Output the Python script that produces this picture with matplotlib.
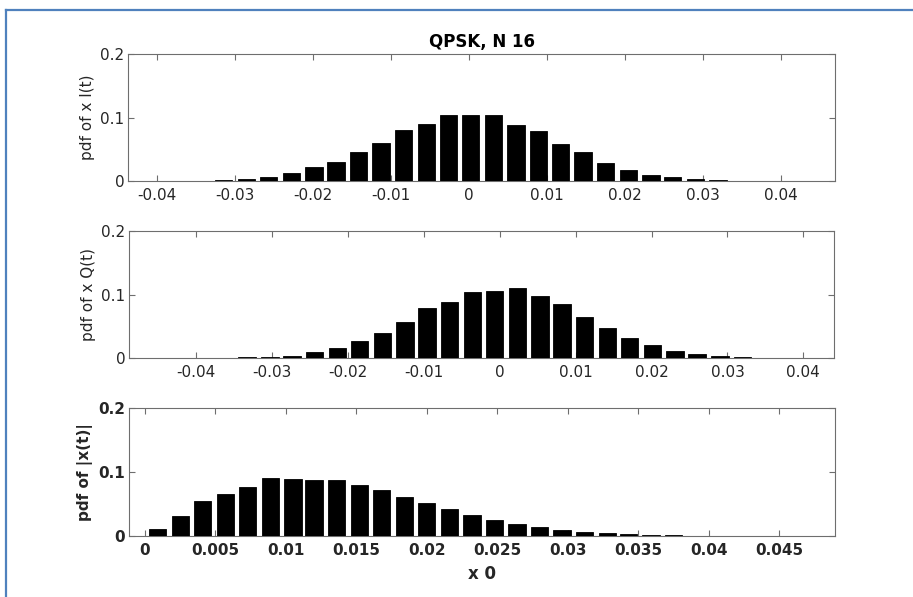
import numpy as np
import matplotlib
matplotlib.use("Agg")
import matplotlib.pyplot as plt
from matplotlib.lines import Line2D

plt.rcParams["font.family"] = ["DejaVu Sans"]

# bin centers / pdf values
i_centers = [-0.0401, -0.0372, -0.0343, -0.0315, -0.0286, -0.0257, -0.0228, -0.0199,
             -0.0171, -0.0142, -0.0113, -0.0084, -0.0055, -0.0027, 0.0002, 0.0031,
             0.0060, 0.0089, 0.0117, 0.0146, 0.0175, 0.0204, 0.0233, 0.0261,
             0.0290, 0.0319, 0.0348, 0.0377, 0.0405, 0.0434]
i_pdf = [0.0001, 0.0002, 0.0005, 0.0014, 0.003, 0.006, 0.012, 0.0216,
         0.030, 0.046, 0.060, 0.0805, 0.090, 0.104, 0.104, 0.1047,
         0.088, 0.078, 0.059, 0.046, 0.028, 0.0174, 0.0095, 0.0058,
         0.0026, 0.001, 0.0004, 0.0002, 0.0001, 0.0001]

q_centers = [-0.0452, -0.0422, -0.0392, -0.0363, -0.0333, -0.0303, -0.0274, -0.0244,
             -0.0214, -0.0185, -0.0155, -0.0125, -0.0096, -0.0066, -0.0036, -0.0007,
             0.0023, 0.0053, 0.0082, 0.0112, 0.0142, 0.0171, 0.0201, 0.0231,
             0.0260, 0.0290, 0.0320, 0.0349, 0.0379, 0.0409]
q_pdf = [0.0001, 0.0001, 0.0003, 0.0005, 0.001, 0.002, 0.0037, 0.009,
         0.016, 0.027, 0.040, 0.057, 0.078, 0.089, 0.104, 0.106,
         0.111, 0.098, 0.085, 0.065, 0.048, 0.032, 0.021, 0.0116,
         0.0058, 0.003, 0.0015, 0.0005, 0.0002, 0.0001]

a_centers = [0.0009, 0.0025, 0.0041, 0.0057, 0.0073, 0.0089, 0.0105, 0.0120,
             0.0136, 0.0152, 0.0168, 0.0184, 0.0200, 0.0216, 0.0232, 0.0248,
             0.0264, 0.0280, 0.0296, 0.0312, 0.0328, 0.0343, 0.0359, 0.0375,
             0.0391, 0.0407, 0.0423, 0.0439, 0.0455, 0.0471]
a_pdf = [0.0116, 0.032, 0.054, 0.066, 0.077, 0.090, 0.0895, 0.088,
         0.0874, 0.079, 0.0716, 0.0605, 0.0516, 0.0416, 0.0324, 0.025,
         0.019, 0.0135, 0.0094, 0.0068, 0.0042, 0.0026, 0.0013, 0.0008,
         0.0004, 0.0002, 0.0001, 0.0001, 0.0001, 0.00005]

iq_ticks = [-0.04, -0.03, -0.02, -0.01, 0, 0.01, 0.02, 0.03, 0.04]
iq_labels = ["-0.04", "-0.03", "-0.02", "-0.01", "0", "0.01", "0.02", "0.03", "0.04"]
a_ticks = [0, 0.005, 0.01, 0.015, 0.02, 0.025, 0.03, 0.035, 0.04, 0.045]
a_labels = ["0", "0.005", "0.01", "0.015", "0.02", "0.025", "0.03", "0.035", "0.04", "0.045"]
y_ticks = [0, 0.1, 0.2]
y_labels = ["0", "0.1", "0.2"]

TXT = "#262626"
SPINE = "#6e6e6e"


def hist_panel(ax, centers, pdf, xlim, xticks, xlabels, ylabel, bold=False):
    c = np.asarray(centers)
    w = 0.77 * np.diff(c).mean()
    # thin black edge, drawn over the spine, so near-empty tail bins still show
    ax.bar(c, pdf, width=w, color="black", edgecolor="black", linewidth=0.6, zorder=3)
    ax.set_xlim(*xlim)
    ax.set_ylim(0, 0.2)
    weight = "bold" if bold else "normal"
    ax.set_xticks(xticks)
    ax.set_xticklabels(xlabels, fontsize=11, color=TXT, fontweight=weight)
    ax.set_yticks(y_ticks)
    ax.set_yticklabels(y_labels, fontsize=11, color=TXT, fontweight=weight)
    ax.tick_params(direction="in", length=4.5, width=0.8, color=SPINE,
                   top=True, right=True)
    ax.tick_params(axis="x", pad=5)
    ax.tick_params(axis="y", pad=3)
    for s in ax.spines.values():
        s.set_color(SPINE)
        s.set_linewidth(0.8)
    ax.set_ylabel(ylabel, fontsize=11, color=TXT, fontweight=weight, labelpad=4)


fig = plt.figure(figsize=(9.13, 5.97), dpi=100)

ax1 = fig.add_axes([0.1407, 0.6968, 0.7738, 0.2127])
ax2 = fig.add_axes([0.1418, 0.4003, 0.7722, 0.2127])
ax3 = fig.add_axes([0.1418, 0.1022, 0.7733, 0.2144])

hist_panel(ax1, i_centers, i_pdf, (-0.0437, 0.0469), iq_ticks, iq_labels, "pdf of x I(t)")
hist_panel(ax2, q_centers, q_pdf, (-0.0488, 0.0441), iq_ticks, iq_labels, "pdf of x Q(t)")
hist_panel(ax3, a_centers, a_pdf, (-0.0011, 0.0490), a_ticks, a_labels, "pdf of |x(t)|", bold=True)

ax1.set_title("QPSK, N 16", fontsize=12, fontweight="bold", color="black", pad=5)
ax3.set_xlabel("x 0", fontsize=12, fontweight="bold", color=TXT, labelpad=5)

# blue frame around the picture (top and left edges are visible)
W, H = 913, 597
frame = "#4f81bd"
fig.add_artist(Line2D([6 / W, 1.0], [1 - 10 / H, 1 - 10 / H], color=frame, lw=1.6,
                      transform=fig.transFigure))
fig.add_artist(Line2D([6 / W, 6 / W], [1 - 10 / H, 0.0], color=frame, lw=1.6,
                      transform=fig.transFigure))

fig.savefig("out.png", dpi=100)
